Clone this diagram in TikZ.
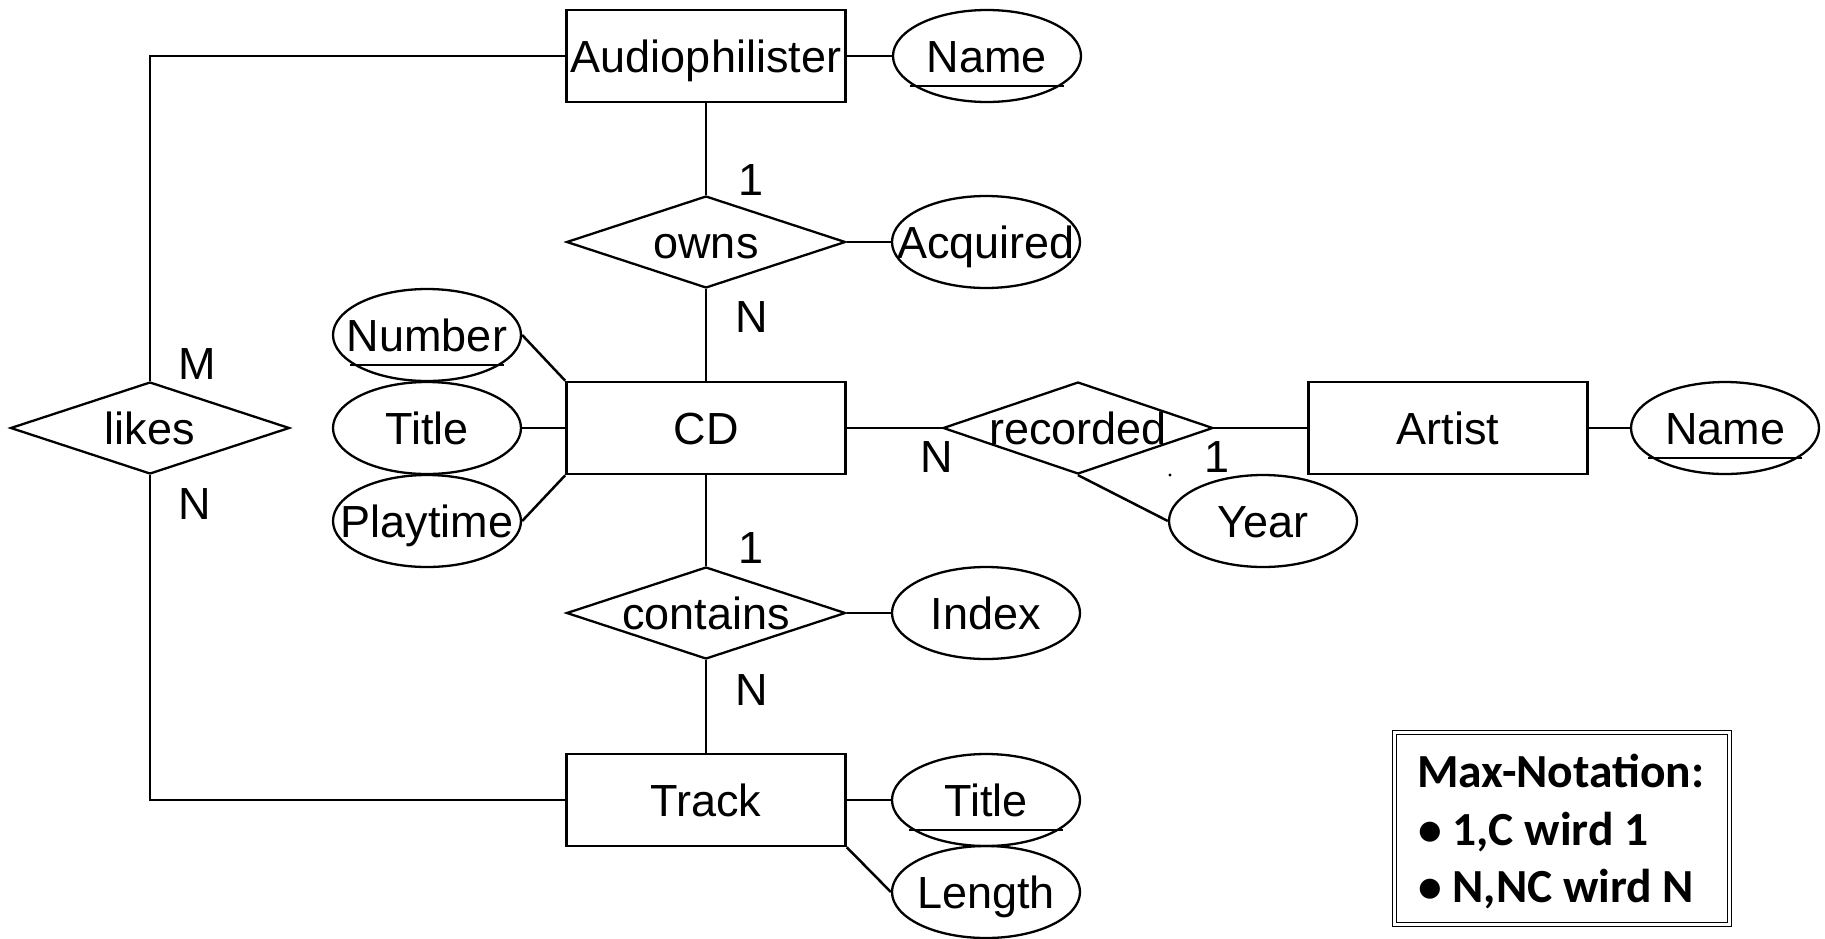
\documentclass[tikz,border=0pt]{standalone}
\usepackage{fontspec}
\setmainfont{Liberation Sans}
\newfontfamily\legendfont{Carlito}
\usetikzlibrary{shapes.geometric,calc}
\begin{document}
\begin{tikzpicture}[x=1pt,y=-1pt,
  txt/.style={font=\fontsize{45}{54}\selectfont, text height=32pt, text depth=0pt},
  named/.style={label={[txt, inner sep=0pt]center:#1}},
  line/.style={line width=2.5pt},
  entity/.style={txt, draw, line width=2.6pt, rectangle, minimum width=279pt, minimum height=92pt, inner sep=0pt},
  relation/.style={draw, line width=2.3pt, diamond, aspect=3, minimum width=279pt, minimum height=92pt, inner sep=0pt, named=#1},
  attr/.style={draw, line width=2.3pt, ellipse, minimum width=188pt, minimum height=92pt, inner sep=0pt, named=#1},
  card/.style={txt, inner sep=0pt},
  keyline/.style={line width=2.5pt},
  legendline/.style={font=\legendfont\bfseries\fontsize{47.5}{57}\selectfont, anchor=base west, inner sep=0pt}
]
\useasboundingbox (0,0) rectangle (1825,938);

% entities
\node[entity] (audio)  at (706,56)   {Audiophilister};
\node[entity] (cd)     at (706,428)  {CD};
\node[entity] (track)  at (706,800)  {Track};
\node[entity] (artist) at (1448,428) {Artist};

% relationships (fixed size, the label may run past the outline)
\node[relation=likes]    (likes)    at (150,428)  {};
\node[relation=owns]     (owns)     at (706,242)  {};
\node[relation=contains] (contains) at (706,613)  {};
\node[relation=recorded, minimum width=270pt] (recorded) at (1078,428) {};

% attributes (fixed size ellipses)
\node[attr=Name]     (audname)    at (987,56)   {};
\node[attr=Acquired] (acquired)   at (986,242)  {};
\node[attr=Number]   (number)     at (427,335)  {};
\node[attr=Title]    (cdtitle)    at (427,428)  {};
\node[attr=Playtime] (playtime)   at (427,521)  {};
\node[attr=Index]    (index)      at (986,613)  {};
\node[attr=Title]    (tracktitle) at (986,800)  {};
\node[attr=Length]   (length)     at (986,892)  {};
\node[attr=Year]     (year)       at (1263,521) {};
\node[attr=Name]     (artname)    at (1725,428) {};

% key attributes are underlined
\foreach \k in {audname,number,tracktitle,artname}
  \draw[keyline] ($(\k.center)+(-77,30)$) -- ($(\k.center)+(77,30)$);

% connectors
\draw[line] (audio) -- (owns);
\draw[line] (owns) -- (cd);
\draw[line] (cd) -- (contains);
\draw[line] (contains) -- (track);
\draw[line] (audio) -- (audname);
\draw[line] (owns) -- (acquired);
\draw[line] (contains) -- (index);
\draw[line] (track) -- (tracktitle);
\draw[line] (cd) -- (cdtitle);
\draw[line] (number.east) -- (cd.north west);
\draw[line] (playtime.east) -- (cd.south west);
\draw[line] (track.south east) -- (length.west);
\draw[line] (cd) -- (recorded);
\draw[line] (recorded) -- (artist);
\draw[line] (artist) -- (artname);
\draw[line] (recorded.south) -- (year.west);
\draw[line] (likes.north) |- (audio.west);
\draw[line] (likes.south) |- (track.west);

% cardinalities
\node[card] (owns1)     at (751,179) {1};
\node[card] (ownsN)     at (752,316) {N};
\node[card] (contains1) at (751,547) {1};
\node[card] (containsN) at (752,689) {N};
\node[card] (likesM)    at (197,363) {M};
\node[card] (likesN)    at (195,503) {N};
\node[card] (recN)      at (937,456) {N};
\node[card] (rec1)      at (1217,456) {1};
\fill (1170,475) circle (1.6pt);

% legend
\node[draw, double, double distance=2.6pt, line width=1.4pt,
      minimum width=334.6pt, minimum height=191.6pt, inner sep=0pt]
      (legendbox) at (1562,828.5) {};
\node[legendline] (leg1) at (1417,787) {Max-Notation:};
\node[legendline] (leg2) at (1418,845) {• 1,C wird 1};
\node[legendline] (leg3) at (1418,902) {• N,NC wird N};
\end{tikzpicture}
\end{document}
